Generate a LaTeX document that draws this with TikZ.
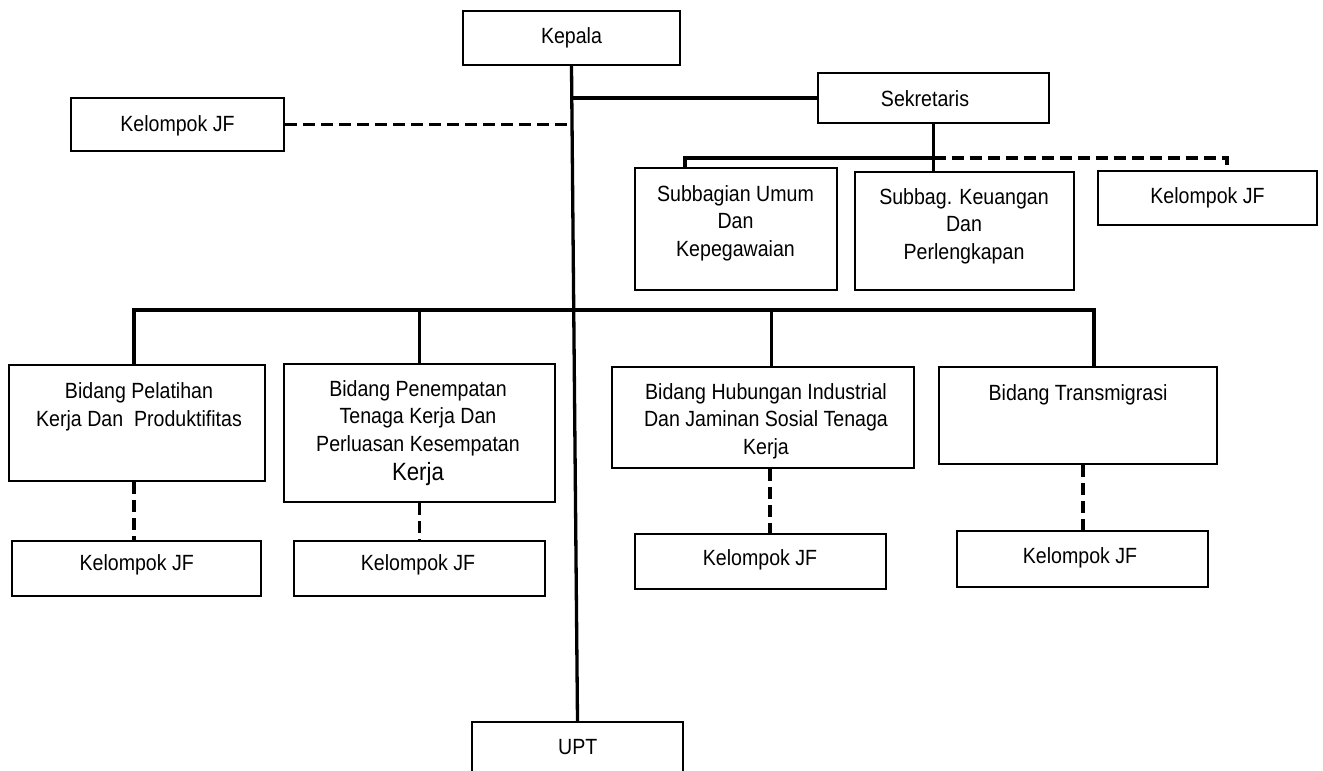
\documentclass[tikz,border=0pt]{standalone}
\usepackage{fontspec}
\setmainfont{Liberation Sans}[FakeStretch=0.89]
\begin{document}
\begin{tikzpicture}[x=1pt,y=-1pt,
  box/.style={draw, line width=1.6pt, inner sep=0pt},
  conn/.style={line width=3.3pt},
  dconn/.style={line width=3.5pt, dash pattern=on 12pt off 6pt},
  txt/.style={font=\fontsize{22}{27.5}\selectfont, align=center, inner sep=0pt}]
\useasboundingbox (0,0) rectangle (1323,771);
\clip (0,0) rectangle (1323,771);
% boxes
\node[box, minimum width=217pt, minimum height=54pt] (kepala) at (571.5,38) {};
\node[box, minimum width=213pt, minimum height=53pt] (kjf0) at (177.5,124.5) {};
\node[box, minimum width=231pt, minimum height=50pt] (sek) at (933.5,98) {};
\node[box, minimum width=202pt, minimum height=122pt] (um) at (736,229) {};
\node[box, minimum width=219pt, minimum height=118pt] (keu) at (964.5,231) {};
\node[box, minimum width=219pt, minimum height=54pt] (kjfr) at (1207.5,198) {};
\node[box, minimum width=256pt, minimum height=116pt] (pel) at (137,423) {};
\node[box, minimum width=271pt, minimum height=138pt] (pen) at (419.5,433) {};
\node[box, minimum width=302pt, minimum height=101pt] (hub) at (763,417.5) {};
\node[box, minimum width=278pt, minimum height=97pt] (tra) at (1078,415.5) {};
\node[box, minimum width=249pt, minimum height=55pt] (kjf1) at (136.5,568.5) {};
\node[box, minimum width=251pt, minimum height=55pt] (kjf2) at (419.5,568.5) {};
\node[box, minimum width=251pt, minimum height=55pt] (kjf3) at (760.5,561.5) {};
\node[box, minimum width=251pt, minimum height=56pt] (kjf4) at (1082.5,559) {};
\node[box, minimum width=211pt, minimum height=54pt] (upt) at (577.5,749) {};
% texts
\node[txt, anchor=base] (t-kepala) at (571.5,43) {Kepala};
\node[txt, anchor=base] (t-kjf0) at (177.5,131) {Kelompok JF};
\node[txt, anchor=base] (t-sek) at (925,106.5) {Sekretaris};
\node[txt] (t-um) at (735.5,223) {Subbagian Umum\\Dan\\Kepegawaian};
\node[txt] (t-keu) at (964,226) {Subbag. Keuangan\\Dan\\Perlengkapan};
\node[txt, anchor=base] (t-kjfr) at (1207.5,203) {Kelompok JF};
\node[txt] (t-pel) at (139,407) {Bidang Pelatihan\\Kerja Dan\ \ Produktifitas};
\node[txt] (t-pen) at (418,433) {Bidang Penempatan\\Tenaga Kerja Dan\\Perluasan Kesempatan\\[2pt]{\fontsize{25}{30}\selectfont Kerja}};
\node[txt] (t-hub) at (766,421) {Bidang Hubungan Industrial\\Dan Jaminan Sosial Tenaga\\Kerja};
\node[txt, anchor=base] (t-tra) at (1078,400) {Bidang Transmigrasi};
\node[txt, anchor=base] (t-kjf1) at (136.7,570) {Kelompok JF};
\node[txt, anchor=base] (t-kjf2) at (418,570) {Kelompok JF};
\node[txt, anchor=base] (t-kjf3) at (760,565) {Kelompok JF};
\node[txt, anchor=base] (t-kjf4) at (1080,563) {Kelompok JF};
\node[txt, anchor=base] (t-upt) at (577.8,754) {UPT};
% helper coordinates
\coordinate (bs) at (685,158);
\coordinate (bd) at (1227,158);
\coordinate (mb) at (0,310);
\coordinate (dh) at (771.5,310);
\coordinate (dt) at (1094,310);
\coordinate (dp1) at (134,0);
\coordinate (dp3) at (770,0);
\coordinate (dp4) at (1083,0);
% connectors
\draw[conn] (kepala.south) -- (upt.north);
\draw[conn] (sek.west) -- (sek.west -| kepala.south);
\draw[dconn] (kjf0.east) -- (kjf0.east -| kepala.south);
\draw[conn] (sek.south) -- (sek.south |- keu.north);
\draw[conn] (bs |- um.north) -- (bs) -- (bs -| sek.south);
\draw[dconn] (bs -| sek.south) -- (bd) -- (bd |- kjfr.north);
\draw[conn] (dp1 |- pel.north) -- (dp1 |- mb) -- (dt) -- (dt |- tra.north);
\draw[conn] (pen.north) -- (pen.north |- mb);
\draw[conn] (dh) -- (dh |- hub.north);
\draw[dconn] (dp1 |- pel.south) -- (dp1 |- kjf1.north);
\draw[dconn] (pen.south) -- (pen.south |- kjf2.north);
\draw[dconn] (dp3 |- hub.south) -- (dp3 |- kjf3.north);
\draw[dconn] (dp4 |- tra.south) -- (dp4 |- kjf4.north);
\end{tikzpicture}
\end{document}
